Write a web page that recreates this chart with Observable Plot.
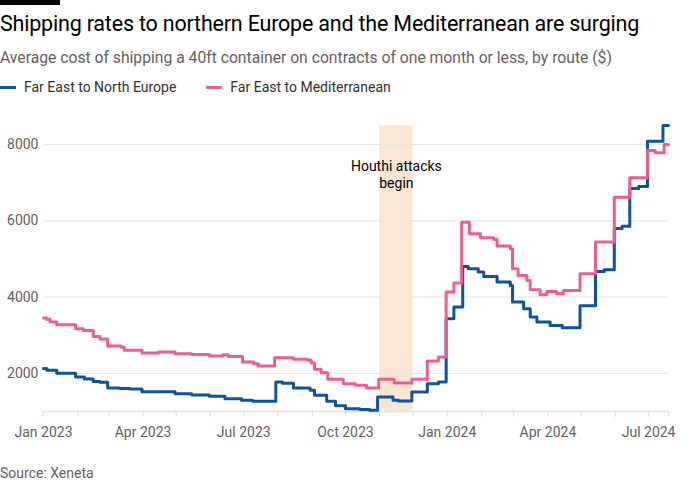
<!DOCTYPE html>
<html>
<head>
<meta charset="utf-8">
<script src="https://cdn.jsdelivr.net/npm/d3@7"></script>
<script src="https://cdn.jsdelivr.net/npm/@observablehq/plot@0.6"></script>
<style>
  html, body { margin: 0; padding: 0; background: #ffffff; }
  body { width: 700px; height: 500px; position: relative; overflow: hidden; font-family: Roboto, "Open Sans", sans-serif; }
  .bar { position: absolute; left: 0; top: 0; width: 60px; height: 5px; background: #000; }
  .title { position: absolute; left: 0; top: 11px; font-size: 21.5px; color: #000; white-space: nowrap; letter-spacing: -0.2px; }
  .subtitle { position: absolute; left: 0; top: 48px; font-size: 15.7px; color: #66605c; white-space: nowrap; }
  .legend { position: absolute; left: 0; top: 79px; font-size: 14px; color: #33302e; white-space: nowrap; display: flex; }
  .legend .item { display: flex; align-items: center; margin-right: 30px; }
  .legend .sw { width: 16px; height: 3px; margin-right: 8px; }
  #chart { position: absolute; left: 0; top: 100px; }
  .source { position: absolute; left: 0; top: 465px; font-size: 14px; color: #66605c; }
</style>
</head>
<body>
<div class="bar"></div>
<div class="title">Shipping rates to northern Europe and the Mediterranean are surging</div>
<div class="subtitle">Average cost of shipping a 40ft container on contracts of one month or less, by route ($)</div>
<div class="legend" id="legend"></div>
<div id="chart"></div>
<div class="source">Source: Xeneta</div>
<script>
// Series names and colours
const seriesNames = ["Far East to North Europe", "Far East to Mediterranean"];
const seriesColors = ["#0f5499", "#eb5f8e"];

// Far East to North Europe ($ per 40ft container), step changes
const northDates = [
  "2023-01-01","2023-01-04","2023-01-13","2023-01-30","2023-02-07","2023-02-15","2023-02-21","2023-02-28",
  "2023-03-11","2023-03-20","2023-03-31","2023-04-16","2023-04-30","2023-05-15","2023-05-31","2023-06-14",
  "2023-06-29","2023-07-09","2023-07-30","2023-08-05","2023-08-15","2023-08-30","2023-09-03","2023-09-14",
  "2023-09-22","2023-10-01","2023-10-14","2023-10-23","2023-10-30","2023-11-13","2023-11-18","2023-11-30",
  "2023-12-14","2023-12-24","2023-12-31","2024-01-07","2024-01-15","2024-01-20","2024-01-29","2024-02-03",
  "2024-02-15","2024-02-27","2024-02-29","2024-03-10","2024-03-16","2024-03-22","2024-04-03","2024-04-14",
  "2024-04-30","2024-05-14","2024-05-22","2024-05-31","2024-06-07","2024-06-14","2024-06-22","2024-06-30",
  "2024-07-14","2024-07-19"
];
const northValues = [
  2130,2080,2000,1905,1850,1790,1765,1615,
  1600,1590,1520,1515,1468,1432,1397,1337,
  1292,1266,1772,1738,1615,1555,1423,1266,
  1150,1075,1050,1030,1379,1292,1274,1510,
  1730,1772,3434,3738,4804,4744,4655,4542,
  4393,4306,3869,3695,3476,3345,3258,3198,
  3770,4670,4720,5800,5860,6850,6900,8089,
  8500,8500
];

// Far East to Mediterranean ($ per 40ft container), step changes
const medDates = [
  "2023-01-01","2023-01-04","2023-01-07","2023-01-13","2023-01-30","2023-02-06","2023-02-15","2023-02-21",
  "2023-02-28","2023-03-12","2023-03-15","2023-03-31","2023-04-15","2023-04-30","2023-05-15","2023-05-31",
  "2023-06-12","2023-06-17","2023-06-30","2023-07-10","2023-07-14","2023-07-29","2023-08-15","2023-08-28",
  "2023-08-31","2023-09-03","2023-09-09","2023-09-15","2023-09-29","2023-10-10","2023-10-20","2023-10-31",
  "2023-11-14","2023-11-30","2023-12-14","2023-12-24","2023-12-31","2024-01-07","2024-01-14","2024-01-21",
  "2024-01-31","2024-02-12","2024-02-15","2024-02-27","2024-02-29","2024-03-05","2024-03-13","2024-03-16",
  "2024-03-25","2024-03-31","2024-04-09","2024-04-15","2024-04-30","2024-05-14","2024-05-31","2024-06-14",
  "2024-06-30","2024-07-07","2024-07-15","2024-07-19"
];
const medValues = [
  3449,3415,3345,3276,3171,3127,2970,2900,
  2716,2689,2603,2532,2558,2515,2497,2454,
  2489,2445,2296,2253,2192,2411,2367,2341,
  2270,2105,2018,1843,1730,1686,1615,1843,
  1746,1843,2322,2427,4131,4367,5966,5662,
  5557,5512,5337,5268,4744,4569,4437,4194,
  4063,4149,4089,4176,4613,5442,6620,7127,
  7845,7785,8003,8003
];

// Annotation band
const bandStart = "2023-11-01";
const bandEnd = "2023-12-01";
const bandLabel = "Houthi attacks\nbegin";

// Axis settings
const xStart = "2023-01-01";
const xEnd = "2024-07-19";
const yTicks = [2000, 4000, 6000, 8000];
const yMin = 1000;
const yMax = 8500;

const parse = d3.utcParse("%Y-%m-%d");
const rows = [];
northDates.forEach((d, i) => rows.push({date: parse(d), value: northValues[i], series: seriesNames[0]}));
medDates.forEach((d, i) => rows.push({date: parse(d), value: medValues[i], series: seriesNames[1]}));

const x0 = parse(xStart), x1 = parse(xEnd);
const uniqTicks = d3.utcMonths(x0, x1).concat([x1]);
const fmt = d3.utcFormat("%b %Y");

// Legend
const legend = document.getElementById("legend");
seriesNames.forEach((n, i) => {
  const it = document.createElement("div");
  it.className = "item";
  it.innerHTML = `<span class="sw" style="background:${seriesColors[i]}"></span><span>${n}</span>`;
  legend.appendChild(it);
});

const chart = Plot.plot({
  width: 700,
  height: 350,
  marginTop: 25,
  marginBottom: 39,
  marginLeft: 43,
  marginRight: 32,
  style: {fontFamily: "Roboto, 'Open Sans', sans-serif", fontSize: "13.5px", color: "#66605c", background: "transparent"},
  x: {type: "utc", domain: [x0, x1]},
  y: {domain: [yMin, yMax]},
  color: {domain: seriesNames, range: seriesColors},
  marks: [
    Plot.rect([{a: parse(bandStart), b: parse(bandEnd)}], {x1: "a", x2: "b", fill: "#fbe3cf", fillOpacity: 0.9}),
    Plot.gridY(yTicks, {stroke: "#e9e4df", strokeOpacity: 1, strokeWidth: 1}),
    Plot.axisY(yTicks, {tickSize: 0, tickPadding: 5, label: null, fill: "#66605c", fontSize: 14, tickFormat: d3.format("d")}),
    Plot.ruleY([yMin], {stroke: "#e9e4df", strokeWidth: 2}),
    Plot.axisX(uniqTicks, {
      tickSize: 6, tickPadding: 10, stroke: "#e0dbd6", label: null, fill: "#66605c", fontSize: 14,
      tickFormat: d => (d.getUTCDate() === 1 && d.getUTCMonth() % 3 === 0) ? fmt(d) : ""
    }),
    Plot.text([{a: parse(bandStart), b: parse(bandEnd)}], {
      x: d => new Date((+d.a + +d.b) / 2), frameAnchor: "top", dy: 34, text: () => bandLabel,
      fill: "#000", fontSize: 14, lineHeight: 1.2
    }),
    Plot.line(rows, {x: "date", y: "value", z: "series", stroke: "series", strokeWidth: 3, curve: "step-after"})
  ]
});
document.getElementById("chart").appendChild(chart);
</script>
</body>
</html>
